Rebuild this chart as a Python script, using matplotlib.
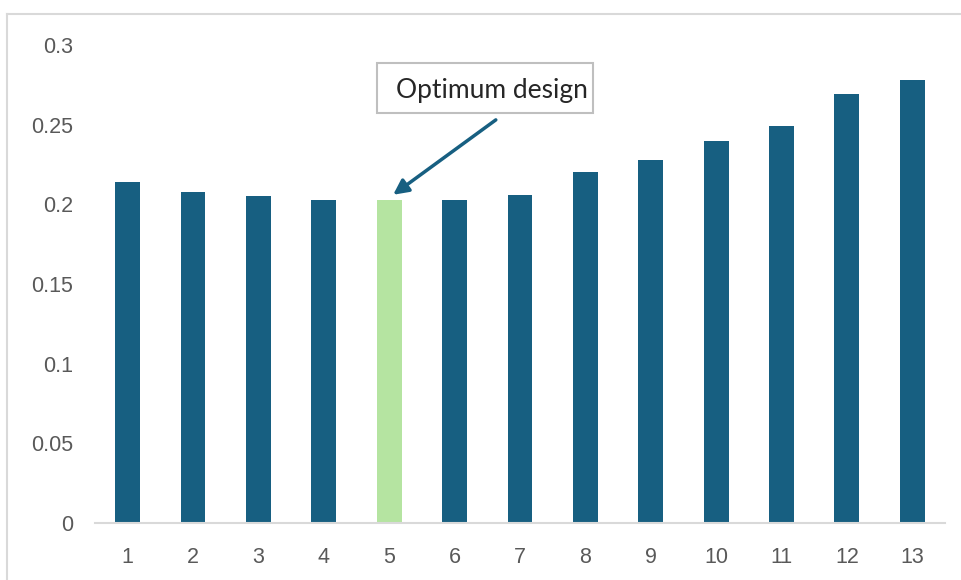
import matplotlib
matplotlib.use("Agg")
import matplotlib.pyplot as plt
from matplotlib.patches import Rectangle

# Design number and the corresponding objective value
designs = list(range(1, 14))
values = [0.214, 0.208, 0.205, 0.203, 0.2025, 0.203, 0.206,
          0.220, 0.228, 0.240, 0.249, 0.269, 0.278]
optimum_design = 5
y_ticks = [0, 0.05, 0.1, 0.15, 0.2, 0.25, 0.3]
y_tick_labels = ["0", "0.05", "0.1", "0.15", "0.2", "0.25", "0.3"]

BLUE = "#175F81"
GREEN = "#B5E4A1"
GRAY_TEXT = "#595959"
TICK_FONT = ["Liberation Sans Narrow", "Liberation Sans", "DejaVu Sans"]

fig = plt.figure(figsize=(9.62, 5.80), dpi=100)

# Outer chart frame (top and left edges visible)
fig.add_artist(plt.Line2D([7 / 962, 1.0], [1 - 13.5 / 580, 1 - 13.5 / 580],
                          transform=fig.transFigure, color="#D9D9D9", lw=1.5))
fig.add_artist(plt.Line2D([7 / 962, 7 / 962], [0.0, 1 - 13.5 / 580],
                          transform=fig.transFigure, color="#D9D9D9", lw=1.5))

ax = fig.add_axes([95 / 962, 57 / 580, 850 / 962, 478 / 580])

colors = [GREEN if d == optimum_design else BLUE for d in designs]
ax.bar(designs, values, width=0.38, color=colors, zorder=2)

ax.set_xlim(0.5, 13.5)
ax.set_ylim(0, 0.3)
ax.set_xticks(designs)
ax.set_xticklabels([str(d) for d in designs])
ax.set_yticks(y_ticks)
ax.set_yticklabels(y_tick_labels)

for side in ("top", "right", "left"):
    ax.spines[side].set_visible(False)
ax.spines["bottom"].set_color("#D9D9D9")
ax.spines["bottom"].set_linewidth(1.5)

ax.tick_params(axis="both", length=0, labelcolor=GRAY_TEXT, labelsize=15.5)
ax.tick_params(axis="y", pad=16)
ax.tick_params(axis="x", pad=17)
for lbl in ax.get_xticklabels() + ax.get_yticklabels():
    lbl.set_fontfamily(TICK_FONT)

# Callout marking the optimum design
opt_value = values[designs.index(optimum_design)]
ax.annotate("", xy=(optimum_design + 0.06, opt_value + 0.0035),
            xytext=(6.63, 0.253),
            arrowprops=dict(arrowstyle="-|>,head_length=0.9,head_width=0.45",
                            color=BLUE, lw=2.5, shrinkA=0, shrinkB=0))
ax.add_patch(Rectangle((4.813, 0.2574), 8.117 - 4.813, 0.2888 - 0.2574,
                       facecolor="white", edgecolor="#BFBFBF", linewidth=1.5,
                       zorder=3, clip_on=False))
ax.text(6.57, 0.2712, "Optimum design", ha="center", va="center",
        fontsize=19, family="Lato", color="#262626", zorder=4)

fig.savefig("out.png", dpi=100, facecolor="white")
